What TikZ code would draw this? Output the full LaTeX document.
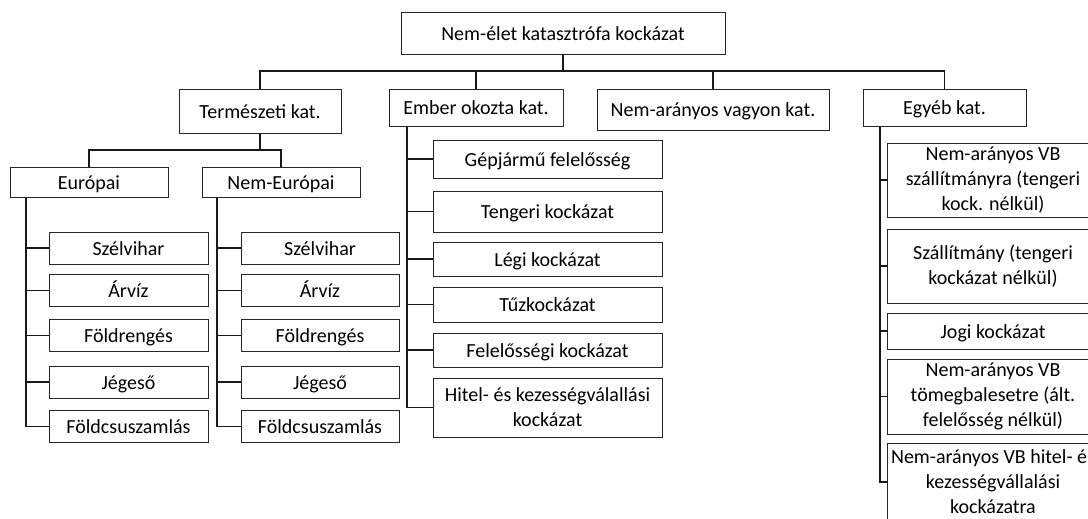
\documentclass[tikz,border=0pt]{standalone}
\usepackage{fontspec}
\setmainfont{Carlito}
\begin{document}
\begin{tikzpicture}[x=0.75pt,y=-0.75pt,
  box/.style={draw=black!85,line width=0.75pt,inner sep=0pt,align=center,
    font=\fontsize{15}{18.75}\selectfont},
  sbox/.style={box,text height=11pt,text depth=0pt},
  wh/.style 2 args={minimum width=#1*0.75pt,minimum height=#2*0.75pt},
  conn/.style={draw=black!90,line width=1pt}]
\useasboundingbox (0,0) rectangle (1088,518);
\clip (0,0) rectangle (1088,518);
% level 0
\node[sbox,wh={324}{42}] (top) at (563,33) {Nem-élet katasztrófa kockázat};
% level 1
\node[sbox,wh={162}{44}] (term) at (260,111) {Természeti kat.};
\node[sbox,wh={174}{37}] (ember) at (476,107.5) {Ember okozta kat.};
\node[sbox,wh={232}{41}] (vagyon) at (713,109.5) {Nem-arányos vagyon kat.};
\node[sbox,wh={163}{37}] (egyeb) at (944.5,107.5) {Egyéb kat.};
% level 2 natural
\node[sbox,wh={158}{30}] (eur) at (89,182) {Európai};
\node[sbox,wh={158}{30}] (neur) at (281,182) {Nem-Európai};
% european leaves
\node[sbox,wh={159}{32}] (e1) at (128.5,248) {Szélvihar};
\node[sbox,wh={159}{32}] (e2) at (128.5,290.5) {Árvíz};
\node[sbox,wh={159}{32}] (e3) at (128.5,335.5) {Földrengés};
\node[sbox,wh={159}{32}] (e4) at (128.5,382) {Jégeső};
\node[sbox,wh={159}{32}] (e5) at (128.5,426.5) {Földcsuszamlás};
% non-european leaves
\node[sbox,wh={158}{32}] (n1) at (320,248) {Szélvihar};
\node[sbox,wh={158}{32}] (n2) at (320,290.5) {Árvíz};
\node[sbox,wh={158}{32}] (n3) at (320,335.5) {Földrengés};
\node[sbox,wh={158}{32}] (n4) at (320,382) {Jégeső};
\node[sbox,wh={158}{32}] (n5) at (320,426.5) {Földcsuszamlás};
% man-made leaves
\node[sbox,wh={229}{38}] (m1) at (547.5,159) {Gépjármű felelősség};
\node[sbox,wh={229}{41}] (m2) at (547.5,211.5) {Tengeri kockázat};
\node[sbox,wh={229}{34}] (m3) at (547.5,259) {Légi kockázat};
\node[sbox,wh={229}{35}] (m4) at (547.5,304.5) {Tűzkockázat};
\node[sbox,wh={229}{34}] (m5) at (547.5,350) {Felelősségi kockázat};
\node[box,wh={229}{59}] (m6) at (547.5,407.5) {Hitel- és kezességválallási\\kockázat};
% other leaves
\node[box,wh={212}{74}] (o1) at (993,180) {Nem-arányos VB\\szállítmányra (tengeri\\kock. nélkül)};
\node[box,wh={212}{74}] (o2) at (993,266) {Szállítmány (tengeri\\kockázat nélkül)};
\node[sbox,wh={212}{36}] (o3) at (993,331) {Jogi kockázat};
\node[box,wh={212}{75}] (o4) at (993,396.5) {Nem-arányos VB\\tömegbalesetre (ált.\\felelősség nélkül)};
\node[box,wh={212}{78}] (o5) at (993,482) {Nem-arányos VB hitel- és\\kezességvállalási\\kockázatra};
% hubs and spines
\coordinate (hub) at (563,71);
\coordinate (thub) at (260,150);
\coordinate (sE) at (26,0);
\coordinate (sN) at (217,0);
\coordinate (sM) at (407,0);
\coordinate (sO) at (880,0);
% connectors level 0-1
\draw[conn] (top.south) -- (hub);
\draw[conn] (term.north) |- (hub) -| (egyeb.north);
\draw[conn] (hub -| ember.north) -- (ember.north);
\draw[conn] (hub -| vagyon.north) -- (vagyon.north);
% natural split
\draw[conn] (term.south) -- (thub);
\draw[conn] (eur.north) |- (thub) -| (neur.north);
% spines
\draw[conn] (eur.south -| sE) |- (e5.west);
\foreach \n in {e1,e2,e3,e4} \draw[conn] (\n.west -| sE) -- (\n.west);
\draw[conn] (neur.south -| sN) |- (n5.west);
\foreach \n in {n1,n2,n3,n4} \draw[conn] (\n.west -| sN) -- (\n.west);
\draw[conn] (ember.south -| sM) |- (m6.west);
\foreach \n in {m1,m2,m3,m4,m5} \draw[conn] (\n.west -| sM) -- (\n.west);
\draw[conn] (egyeb.south -| sO) |- (o5.west);
\foreach \n in {o1,o2,o3,o4} \draw[conn] (\n.west -| sO) -- (\n.west);
\end{tikzpicture}
\end{document}
